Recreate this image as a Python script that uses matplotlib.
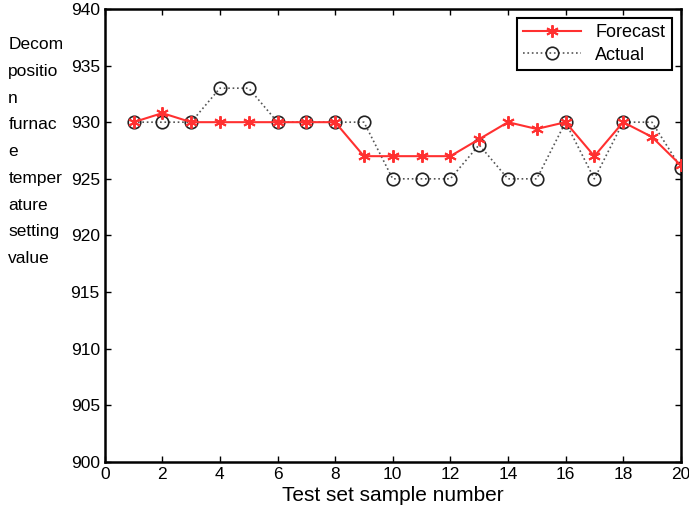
import matplotlib.pyplot as plt

plt.rcParams['font.family'] = ['Liberation Sans', 'DejaVu Sans']

samples = list(range(1, 21))
forecast = [930, 930.8, 930, 930, 930, 930, 930, 930, 927, 927,
            927, 927, 928.5, 930, 929.4, 930, 927, 930, 928.7, 926.2]
actual = [930, 930, 930, 933, 933, 930, 930, 930, 930, 925,
          925, 925, 928, 925, 925, 930, 925, 930, 930, 926]

fig = plt.figure(figsize=(6.89, 5.21), dpi=100)
ax = fig.add_axes([0.152, 0.113, 0.836, 0.870])

ax.plot(samples, forecast, color='#ff3030', lw=1.5, marker=(6, 2, 0),
        markersize=9, mew=1.4, label='Forecast', zorder=3)
ax.plot(samples, actual, color='#555555', lw=1.2, ls=':', marker='o',
        markersize=9, mfc='none', mec='#222222', mew=1.2, label='Actual', zorder=2)

ax.set_xlim(0, 20)
ax.set_ylim(900, 940)
ax.set_xticks(range(0, 21, 2))
ax.set_yticks(range(900, 941, 5))
ax.tick_params(direction='in', top=True, right=True, labelsize=12.5, length=4, width=1)
for s in ax.spines.values():
    s.set_linewidth(1.8)

ax.set_xlabel('Test set sample number', fontsize=15, labelpad=3)
fig.text(0.012, 0.929, 'Decom\npositio\nn\nfurnac\ne\ntemper\nature\nsetting\nvalue',
         fontsize=12.5, va='top', ha='left', linespacing=1.98)

leg = ax.legend(loc='upper right', fontsize=13, fancybox=False, framealpha=1,
                edgecolor='black', handlelength=3.2, borderaxespad=0.5,
                labelspacing=0.3, borderpad=0.35)
leg.get_frame().set_linewidth(1.5)

fig.savefig('out.png', dpi=100)
